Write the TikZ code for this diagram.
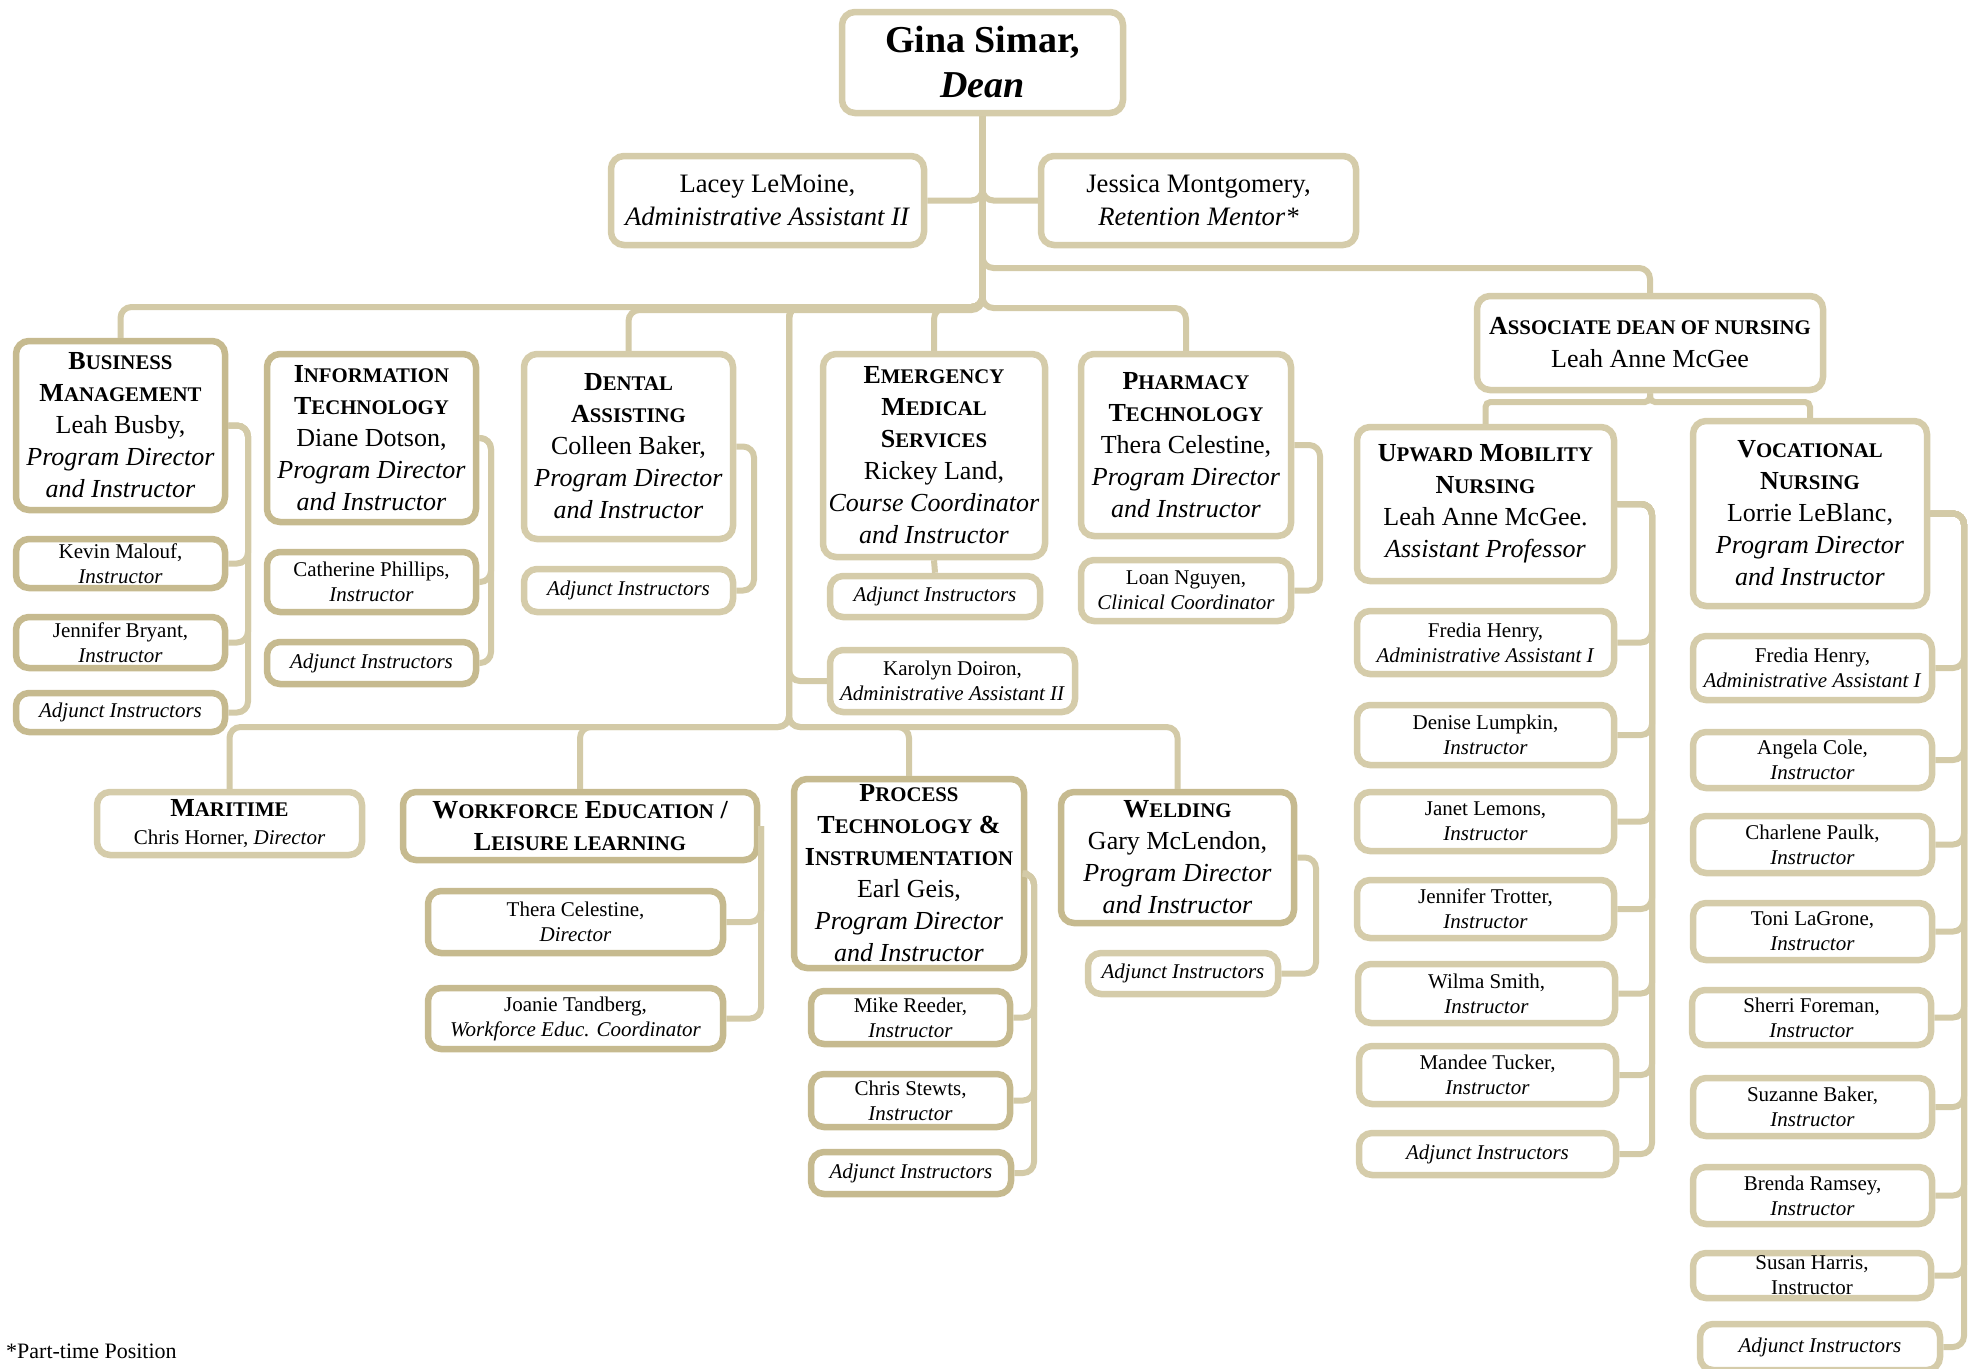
\documentclass[tikz,border=0pt]{standalone}
\usepackage{fontspec}
\setmainfont{Liberation Serif}
\definecolor{cl}{HTML}{D5CCAA}
\definecolor{cd}{HTML}{C6BA8F}
\definecolor{cc}{HTML}{D3CAA7}
\newcommand{\hsc}[2]{{\bfseries\fontsize{26}{32}\selectfont #1\fontsize{20.8}{32}\selectfont #2}}
\newcommand{\hbig}[1]{{\bfseries\fontsize{26}{32}\selectfont #1}}
\tikzset{
  bx/.style={draw=cl, line width=6.5pt, rounded corners=13pt, fill=white, align=center, inner sep=0pt, text=black},
  dk/.style={draw=cd},
  hf/.style={font=\fontsize{26}{32}\selectfont},
  sf/.style={font=\fontsize{21}{25}\selectfont},
  sz/.style 2 args={minimum width=#1pt, minimum height=#2pt},
  conn/.style={draw=cc, line width=6pt, rounded corners=11pt},
  conns/.style={draw=cc, line width=6pt, rounded corners=5pt},
}
\begin{document}
\begin{tikzpicture}[x=1pt,y=-1pt]
\useasboundingbox (0,0) rectangle (1973,1368);
\clip (0,0) rectangle (1973,1368);
% ---------- top ----------
\node[bx,sz={281}{101},font=\fontsize{38}{45}\selectfont] (dean) at (982.5,62.5) {\textbf{Gina Simar,}\\\textbf{\textit{Dean}}};
\node[bx,sz={313}{89},font=\fontsize{26.6}{33}\selectfont] (lacey) at (767.5,200.5) {Lacey LeMoine,\\\textit{Administrative Assistant II}};
\node[bx,sz={315}{89},font=\fontsize{26.6}{33}\selectfont] (jessica) at (1198.5,200.5) {Jessica Montgomery,\\\textit{Retention Mentor*}};
\node[bx,sz={346}{94},font=\fontsize{26}{33}\selectfont] (assoc) at (1650,343) {\hsc{A}{SSOCIATE DEAN OF NURSING}\\Leah Anne McGee};
% ---------- row 1 ----------
\node[bx,dk,hf,sz={209}{169}] (bm) at (120.5,425.5) {\hsc{B}{USINESS}\\\hsc{M}{ANAGEMENT}\\Leah Busby,\\\textit{Program Director}\\\textit{and Instructor}};
\node[bx,dk,sf,sz={209}{49}] (kevin) at (120.5,563.5) {Kevin Malouf,\\\textit{Instructor}};
\node[bx,dk,sf,sz={209}{51}] (jenb) at (120.5,642.5) {Jennifer Bryant,\\\textit{Instructor}};
\node[bx,dk,sf,sz={209}{39}] (adjbm) at (120.5,712.5) {\textit{Adjunct Instructors}};
\node[bx,dk,hf,sz={209}{168}] (it) at (371.5,438) {\hsc{I}{NFORMATION}\\\hsc{T}{ECHNOLOGY}\\Diane Dotson,\\\textit{Program Director}\\\textit{and Instructor}};
\node[bx,dk,sf,sz={209}{60}] (cath) at (371.5,582) {Catherine Phillips,\\\textit{Instructor}};
\node[bx,dk,sf,sz={209}{42}] (adjit) at (371.5,663) {\textit{Adjunct Instructors}};
\node[bx,hf,sz={209}{185}] (dent) at (628.5,446.5) {\hsc{D}{ENTAL}\\\hsc{A}{SSISTING}\\Colleen Baker,\\\textit{Program Director}\\\textit{and Instructor}};
\node[bx,sf,sz={209}{43}] (adjdent) at (628.5,590.5) {\textit{Adjunct Instructors}};
\node[bx,hf,sz={222}{203}] (ems) at (934,455.5) {\hsc{E}{MERGENCY}\\\hsc{M}{EDICAL}\\\hsc{S}{ERVICES}\\Rickey Land,\\\textit{Course Coordinator}\\\textit{and Instructor}};
\node[bx,sf,sz={210}{41}] (adjems) at (935,596.5) {\textit{Adjunct Instructors}};
\node[bx,hf,sz={210}{182}] (pharm) at (1186,445) {\hsc{P}{HARMACY}\\\hsc{T}{ECHNOLOGY}\\Thera Celestine,\\\textit{Program Director}\\\textit{and Instructor}};
\node[bx,sf,sz={210}{61}] (loan) at (1186,590.5) {Loan Nguyen,\\\textit{Clinical Coordinator}};
\node[bx,sf,sz={245}{62}] (karolyn) at (952.5,681) {Karolyn Doiron,\\\textit{Administrative Assistant II}};
% ---------- nursing ----------
\node[bx,hf,sz={257}{154}] (um) at (1485.5,504) {\hsc{U}{PWARD} \hsc{M}{OBILITY}\\\hsc{N}{URSING}\\Leah Anne McGee.\\\textit{Assistant Professor}};
\node[bx,sf,sz={257}{63}] (fredum) at (1485.5,642.5) {Fredia Henry,\\\textit{Administrative Assistant I}};
\node[bx,sf,sz={257}{60}] (denise) at (1485.5,735) {Denise Lumpkin,\\\textit{Instructor}};
\node[bx,sf,sz={257}{59}] (janet) at (1485.5,821.5) {Janet Lemons,\\\textit{Instructor}};
\node[bx,sf,sz={257}{58}] (jent) at (1485.5,909) {Jennifer Trotter,\\\textit{Instructor}};
\node[bx,sf,sz={257}{59}] (wilma) at (1486.5,993.5) {Wilma Smith,\\\textit{Instructor}};
\node[bx,sf,sz={257}{58}] (mandee) at (1487.5,1075) {Mandee Tucker,\\\textit{Instructor}};
\node[bx,sf,sz={257}{42}] (adjum) at (1487.5,1154) {\textit{Adjunct Instructors}};
\node[bx,hf,sz={234}{185}] (vn) at (1810,513.5) {\hsc{V}{OCATIONAL}\\\hsc{N}{URSING}\\Lorrie LeBlanc,\\\textit{Program Director}\\\textit{and Instructor}};
\node[bx,sf,sz={239}{64}] (fredvn) at (1812.5,668) {Fredia Henry,\\\textit{Administrative Assistant I}};
\node[bx,sf,sz={239}{56}] (angela) at (1812.5,760) {Angela Cole,\\\textit{Instructor}};
\node[bx,sf,sz={239}{57}] (charlene) at (1812.5,844.5) {Charlene Paulk,\\\textit{Instructor}};
\node[bx,sf,sz={239}{57}] (toni) at (1812.5,931.5) {Toni LaGrone,\\\textit{Instructor}};
\node[bx,sf,sz={239}{55}] (sherri) at (1811.5,1017.5) {Sherri Foreman,\\\textit{Instructor}};
\node[bx,sf,sz={239}{58}] (suzanne) at (1812.5,1107) {Suzanne Baker,\\\textit{Instructor}};
\node[bx,sf,sz={239}{57}] (brenda) at (1812.5,1195.5) {Brenda Ramsey,\\\textit{Instructor}};
\node[bx,sf,sz={238}{45}] (susan) at (1812,1275.5) {Susan Harris,\\Instructor};
\node[bx,sf,sz={240}{46}] (adjvn) at (1820,1347) {\textit{Adjunct Instructors}};
% ---------- bottom row ----------
\node[bx,sz={265}{63},font=\fontsize{21}{28}\selectfont] (maritime) at (229.5,823.5) {\hsc{M}{ARITIME}\\Chris Horner, \textit{Director}};
\node[bx,dk,hf,sz={354}{68}] (wf) at (580,826) {\hsc{W}{ORKFORCE} \hsc{E}{DUCATION} \hbig{/}\\\hsc{L}{EISURE LEARNING}};
\node[bx,dk,sf,sz={295}{62}] (thera) at (575.5,922) {Thera Celestine,\\\textit{Director}};
\node[bx,dk,sf,sz={295}{61}] (joanie) at (575.5,1018.5) {Joanie Tandberg,\\\textit{Workforce Educ. Coordinator}};
\node[bx,dk,hf,sz={230}{189}] (proc) at (909,873.5) {\hsc{P}{ROCESS}\\\hsc{T}{ECHNOLOGY} \hbig{\&}\\\hsc{I}{NSTRUMENTATION}\\Earl Geis,\\\textit{Program Director}\\\textit{and Instructor}};
\node[bx,dk,sf,sz={199}{53}] (mike) at (910.5,1017.5) {Mike Reeder,\\\textit{Instructor}};
\node[bx,dk,sf,sz={199}{53}] (chris) at (910.5,1100.5) {Chris Stewts,\\\textit{Instructor}};
\node[bx,dk,sf,sz={200}{42}] (adjpt) at (911,1173) {\textit{Adjunct Instructors}};
\node[bx,dk,hf,sz={233}{131}] (weld) at (1177.5,857.5) {\hsc{W}{ELDING}\\Gary McLendon,\\\textit{Program Director}\\\textit{and Instructor}};
\node[bx,sf,sz={190}{41}] (adjw) at (1183,973.5) {\textit{Adjunct Instructors}};
\node[anchor=west,inner sep=0pt,font=\fontsize{22}{26}\selectfont] (foot) at (6,1351) {*Part-time Position};
% ---------- helper coordinates ----------
\coordinate (yR) at (0,268);
\coordinate (yL) at (0,307);
\coordinate (yD) at (0,310);
\coordinate (yE) at (0,308);
\coordinate (hubT) at (789,307);
\coordinate (yB) at (0,727);
\coordinate (yA) at (0,402);
\coordinate (xbm) at (248,0);
\coordinate (xit) at (491,0);
\coordinate (xdent) at (754,0);
\coordinate (xph) at (1320,0);
\coordinate (xum) at (1652,0);
\coordinate (xvn) at (1964,0);
\coordinate (xwf) at (761,0);
\coordinate (xproc) at (1034,0);
\coordinate (xweld) at (1316,0);
% ---------- connectors ----------
\draw[conn] (lacey.east) -| (dean.south);
\draw[conn] (jessica.west) -| (dean.south);
\draw[conn] (dean.south) |- (assoc.north |- yR) -- (assoc.north);
\draw[conn] (dean.south) |- (bm.north |- yL) -- (bm.north);
\draw[conn] (dean.south) |- (dent.north |- yD) -- (dent.north);
\draw[conn] (dean.south) |- (ems.north |- yE) -- (ems.north);
\draw[conn] (dean.south) |- (pharm.north |- yE) -- (pharm.north);
\draw[conn] (dean.south) |- (hubT) |- (karolyn.west);
\draw[conn] (dean.south) |- (hubT) |- (maritime.north |- yB) -- (maritime.north);
\draw[conn] (dean.south) |- (hubT) |- (wf.north |- yB) -- (wf.north);
\draw[conn] (dean.south) |- (hubT) |- (proc.north |- yB) -- (proc.north);
\draw[conn] (dean.south) |- (hubT) |- (weld.north |- yB) -- (weld.north);
\draw[conns] (assoc.south) |- (um.north |- yA) -- (um.north);
\draw[conns] (assoc.south) |- (vn.north |- yA) -- (vn.north);
\foreach \c in {kevin,jenb,adjbm} \draw[conn] (bm.east) -| (xbm |- \c.east) -- (\c.east);
\foreach \c in {cath,adjit} \draw[conn] (it.east) -| (xit |- \c.east) -- (\c.east);
\draw[conn] (dent.east) -| (xdent |- adjdent.east) -- (adjdent.east);
\draw[conn] (ems.south) -- (adjems.north);
\draw[conn] (pharm.east) -| (xph |- loan.east) -- (loan.east);
\foreach \c in {fredum,denise,janet,jent,wilma,mandee,adjum} \draw[conn] (um.east) -| (xum |- \c.east) -- (\c.east);
\foreach \c in {fredvn,angela,charlene,toni,sherri,suzanne,brenda,susan,adjvn} \draw[conn] (vn.east) -| (xvn |- \c.east) -- (\c.east);
\foreach \c in {thera,joanie} \draw[conn] (xwf |- wf.east) |- (\c.east);
\foreach \c in {mike,chris,adjpt} \draw[conn] (proc.east) -| (xproc |- \c.east) -- (\c.east);
\draw[conn] (weld.east) -| (xweld |- adjw.east) -- (adjw.east);
\end{tikzpicture}
\end{document}
